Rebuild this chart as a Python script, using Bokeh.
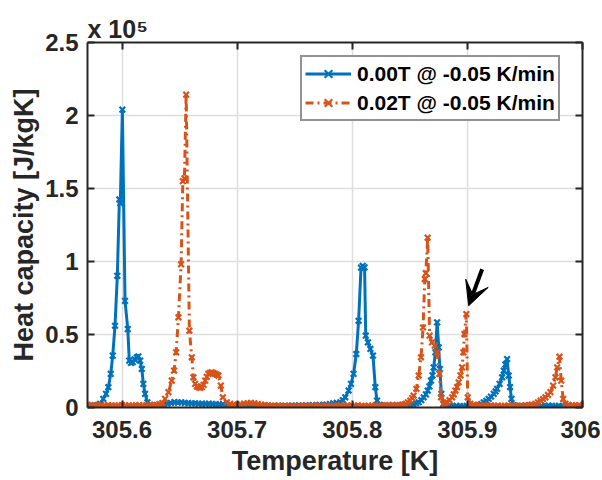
from bokeh.plotting import figure
from bokeh.models import (Range1d, LinearAxis, FixedTicker, Legend, LegendItem,
                          Arrow, VeeHead, CustomJSTickFormatter)
from bokeh.embed import file_html
from bokeh.resources import INLINE

# ---------------- data ----------------
x_ticks = [305.6, 305.7, 305.8, 305.9, 306.0]
y_ticks = [0, 50000, 100000, 150000, 200000, 250000]

blue_label = "0.00T @ -0.05 K/min"
orange_label = "0.02T @ -0.05 K/min"
exponent_text = "x 10\u2075"

blue_T = [
    305.5700, 305.5730, 305.5760, 305.5785,
    305.5809, 305.5837, 305.5861, 305.5881, 305.5902, 305.5919, 305.5939, 305.5959, 305.5977, 305.5985,
    305.6003, 305.6026, 305.6050, 305.6063, 305.6078, 305.6093, 305.6110, 305.6128, 305.6142, 305.6157,
    305.6172, 305.6185, 305.6200, 305.6220,
    305.6245, 305.6275, 305.6305, 305.6335, 305.6365, 305.6395, 305.6425, 305.6455, 305.6485, 305.6515,
    305.6545, 305.6575, 305.6605, 305.6635, 305.6665, 305.6695, 305.6725, 305.6755, 305.6785, 305.6815,
    305.6845, 305.6875, 305.6905, 305.6935, 305.6965, 305.6995, 305.7025, 305.7055, 305.7085, 305.7115,
    305.7145, 305.7175, 305.7205, 305.7235, 305.7265, 305.7295, 305.7325, 305.7355, 305.7385, 305.7415,
    305.7445, 305.7475, 305.7505, 305.7535, 305.7565, 305.7595, 305.7625, 305.7655, 305.7685, 305.7715,
    305.7745, 305.7775, 305.7805, 305.7835, 305.7865,
    305.7896, 305.7918, 305.7939, 305.7968, 305.7989, 305.8011, 305.8035, 305.8055, 305.8076, 305.8091,
    305.8107, 305.8117, 305.8136, 305.8157, 305.8180, 305.8200, 305.8215,
    305.8240, 305.8270, 305.8300, 305.8330, 305.8360, 305.8390, 305.8420, 305.8450, 305.8480, 305.8505,
    305.8530, 305.8555, 305.8577, 305.8600, 305.8620, 305.8640, 305.8655, 305.8670, 305.8684, 305.8697,
    305.8707, 305.8722, 305.8737, 305.8751, 305.8761, 305.8774, 305.8791,
    305.8815, 305.8845, 305.8875, 305.8905, 305.8935, 305.8965, 305.8995, 305.9025, 305.9055, 305.9080,
    305.9100, 305.9120, 305.9142, 305.9165, 305.9185, 305.9205, 305.9229, 305.9245, 305.9258, 305.9280,
    305.9302, 305.9316, 305.9330, 305.9345, 305.9359, 305.9371, 305.9383,
    305.9405, 305.9435, 305.9465, 305.9495, 305.9525, 305.9555, 305.9585, 305.9615, 305.9645, 305.9675,
    305.9705, 305.9735, 305.9765, 305.9795, 305.9825, 305.9855, 305.9885, 305.9915, 305.9945, 305.9975,
    306.0000,
]
blue_C = [
    1100, 900, 1200, 1700,
    2500, 5900, 9300, 13900, 23000, 35500, 56000, 90200, 142500, 140000,
    204000, 73000, 53700, 32100, 30500, 31000, 33000, 34400, 35000, 32100,
    26400, 16200, 9300, 3600,
    1800, 1100, 1000, 1300, 1900, 2600, 3200, 3700, 3400, 3600,
    3100, 3000, 2800, 2900, 2500, 2700, 2400, 2600, 2300, 2400,
    2100, 2200, 1700, 1400, 1200, 1000, 900, 1100, 800, 1000,
    900, 1200, 1000, 800, 1100, 900, 1000, 1200, 900, 1100,
    1000, 1300, 1100, 1400, 1200, 1500, 1300, 1600, 1500, 1800,
    1700, 2000, 2300, 2800, 3200,
    3600, 5000, 7000, 11600, 16200, 23000, 36600, 59400, 95800, 97000,
    96000, 49200, 44600, 40100, 35500, 13900, 4800,
    1800, 1200, 1000, 1100, 900, 1200, 1000, 1300, 1500, 1800,
    2200, 2900, 3600, 5000, 7000, 9000, 11600, 14500, 18400, 22000,
    27500, 37800, 58300, 41200, 26400, 9300, 2500,
    1500, 1100, 900, 1200, 1000, 800, 1100, 1300, 1000, 1200,
    1600, 2300, 3600, 4600, 5900, 7500, 9300, 11000, 12800, 16200,
    20700, 25300, 29500, 33200, 21900, 14000, 5900,
    1500, 1100, 900, 1200, 1000, 1300, 1100, 900, 1200, 1000,
    1300, 1100, 900, 1200, 1000, 1100, 800, 1000, 900, 1100,
    1000,
]

orange_T = [
    305.5700, 305.5730, 305.5760, 305.5790, 305.5820, 305.5850, 305.5880, 305.5910, 305.5940, 305.5970,
    305.6000, 305.6030, 305.6060, 305.6090, 305.6120, 305.6150, 305.6180, 305.6210, 305.6240, 305.6270,
    305.6300, 305.6325, 305.6350,
    305.6374, 305.6403, 305.6432, 305.6452, 305.6470, 305.6490, 305.6513, 305.6528, 305.6542, 305.6557,
    305.6585, 305.6606, 305.6620, 305.6635, 305.6650, 305.6663, 305.6678, 305.6693, 305.6708, 305.6722,
    305.6736, 305.6750, 305.6765, 305.6780, 305.6795, 305.6809, 305.6823, 305.6837, 305.6858, 305.6876,
    305.6910,
    305.6940, 305.6970, 305.7000, 305.7030, 305.7060, 305.7090, 305.7120, 305.7150, 305.7180, 305.7210,
    305.7240, 305.7270, 305.7300, 305.7330, 305.7360, 305.7390, 305.7420, 305.7450, 305.7480, 305.7510,
    305.7540, 305.7570, 305.7600, 305.7630, 305.7660, 305.7690, 305.7720, 305.7750, 305.7780, 305.7810,
    305.7840, 305.7870, 305.7900, 305.7930, 305.7960, 305.7990, 305.8020, 305.8050, 305.8080, 305.8110,
    305.8140, 305.8170, 305.8200, 305.8230, 305.8260, 305.8290, 305.8320, 305.8350, 305.8380, 305.8410,
    305.8435,
    305.8461, 305.8483, 305.8504, 305.8520, 305.8533, 305.8557, 305.8577, 305.8597, 305.8615, 305.8630,
    305.8639, 305.8655, 305.8672, 305.8693, 305.8716, 305.8737, 305.8757, 305.8771, 305.8791,
    305.8805, 305.8823, 305.8845, 305.8867, 305.8882, 305.8896, 305.8910, 305.8924, 305.8940, 305.8954,
    305.8965, 305.8974, 305.8991, 305.9003, 305.9026,
    305.9055, 305.9085, 305.9115, 305.9145, 305.9175, 305.9205, 305.9235, 305.9265, 305.9295, 305.9325,
    305.9355, 305.9385, 305.9415, 305.9445, 305.9475, 305.9505, 305.9535, 305.9560,
    305.9591, 305.9613, 305.9635, 305.9657, 305.9678, 305.9700, 305.9722, 305.9745, 305.9765, 305.9780,
    305.9800, 305.9815, 305.9832, 305.9852,
    305.9880, 305.9910, 305.9940, 305.9970, 306.0000,
]
orange_C = [
    1800, 1500, 1700, 1300, 1600, 1400, 1700, 1500, 1200, 1400,
    1600, 1300, 1500, 1200, 1400, 1600, 1300, 1500, 1700, 1400,
    1800, 2300, 3000,
    5900, 10500, 18400, 25300, 37800, 61700, 98100, 155000, 157000, 214300,
    52600, 34400, 20700, 16200, 14500, 13900, 13500, 13900, 15500, 18400,
    21000, 23000, 23800, 24100, 23500, 23000, 22500, 21900, 15000, 7000,
    3600,
    2500, 2000, 1800, 2200, 2600, 2900, 3100, 2800, 2400, 1900,
    1600, 1400, 1200, 1100, 1300, 1000, 1200, 1100, 900, 1200,
    1000, 1300, 1100, 1200, 1000, 1300, 1100, 900, 1200, 1000,
    1300, 1100, 1400, 1200, 1500, 1300, 1100, 1400, 1200, 1000,
    1300, 1100, 1400, 1200, 1500, 1300, 1600, 1800, 1500, 1700,
    2000,
    2500, 3500, 4800, 6500, 8200, 12800, 21900, 34400, 54800, 88000,
    92000, 116300, 49200, 44600, 42300, 37800, 23000, 7000, 2500,
    3000, 3600, 5000, 7000, 9000, 11600, 14000, 17300, 22000, 27500,
    37800, 50300, 64000, 7000, 2500,
    1800, 1500, 1300, 1600, 1200, 1400, 1100, 1300, 1000, 1200,
    1400, 1100, 1300, 1000, 1200, 1400, 1700, 2000,
    2500, 3500, 4800, 5800, 7000, 8600, 10500, 15000, 20700, 27500,
    34800, 18400, 5900, 2500,
    1800, 1500, 1300, 1600, 1400,
]
assert len(blue_T) == len(blue_C) and len(orange_T) == len(orange_C)

# ---------------- styling ----------------
FONT = "Liberation Sans"
INK = "#262626"
BLUE = "#0072BD"
ORANGE = "#D95319"

p = figure(width=600, height=480, output_backend="svg", toolbar_location=None,
           x_range=Range1d(305.57, 306.0), y_range=Range1d(0, 250000),
           min_border_left=87, min_border_right=18, min_border_top=42, min_border_bottom=73)
p.outline_line_color = None
p.background_fill_color = "white"
p.border_fill_color = "white"

p.title.text = exponent_text
p.title.align = "left"
p.title.text_font = FONT
p.title.text_font_style = "bold"
p.title.text_font_size = "25px"
p.title.text_color = INK
p.title.standoff = 0
p.title.offset = 0

xt = FixedTicker(ticks=x_ticks)
yt = FixedTicker(ticks=y_ticks)
xfmt = CustomJSTickFormatter(code="return tick.toString();")
yfmt = CustomJSTickFormatter(code="return (Math.round(tick/1e4)/10).toString();")


def style_axis(ax, labels=True):
    ax.axis_line_color = INK
    ax.axis_line_width = 2
    ax.major_tick_line_color = INK
    ax.major_tick_line_width = 2
    ax.major_tick_in = 7
    ax.major_tick_out = 0
    ax.minor_tick_line_color = None
    ax.major_label_text_font = FONT
    ax.major_label_text_font_style = "bold"
    ax.major_label_text_color = INK
    if labels:
        ax.major_label_text_font_size = "24px"
    else:
        ax.major_label_text_font_size = "1px"
        ax.major_label_text_alpha = 0
        ax.major_label_standoff = 0


xa = p.xaxis[0]
xa.ticker = xt
xa.formatter = xfmt
style_axis(xa)
xa.major_label_standoff = 13
xa.axis_label = "Temperature [K]"
xa.axis_label_text_font = FONT
xa.axis_label_text_font_style = "bold"
xa.axis_label_text_font_size = "27px"
xa.axis_label_text_color = INK
xa.axis_label_standoff = 5

ya = p.yaxis[0]
ya.ticker = yt
ya.formatter = yfmt
style_axis(ya)
ya.major_label_standoff = 9
ya.axis_label = "Heat capacity [J/kgK]"
ya.axis_label_text_font = FONT
ya.axis_label_text_font_style = "bold"
ya.axis_label_text_font_size = "27px"
ya.axis_label_text_color = INK
ya.axis_label_standoff = 3

top = LinearAxis(ticker=xt)
style_axis(top, labels=False)
p.add_layout(top, "above")
right = LinearAxis(ticker=yt)
style_axis(right, labels=False)
p.add_layout(right, "right")

p.xgrid.ticker = xt
p.ygrid.ticker = yt
for g in (p.xgrid[0], p.ygrid[0]):
    g.grid_line_color = "#dedede"
    g.grid_line_width = 1.5

# ---------------- series ----------------
bl = p.line(blue_T, blue_C, line_color=BLUE, line_width=3)
bs = p.scatter(blue_T, blue_C, marker="x", size=8, line_color=BLUE, line_width=2.2)
ol = p.line(orange_T, orange_C, line_color=ORANGE, line_width=3, line_dash="8 4 2 4")
os_ = p.scatter(orange_T, orange_C, marker="x", size=8, line_color=ORANGE, line_width=2.2)

legend = Legend(items=[LegendItem(label=blue_label, renderers=[bl, bs]),
                       LegendItem(label=orange_label, renderers=[ol, os_])],
                location=(213, 286))
legend.label_text_font = FONT
legend.label_text_font_style = "bold"
legend.label_text_font_size = "21px"
legend.label_text_color = "black"
legend.border_line_color = INK
legend.border_line_width = 2
legend.background_fill_color = "white"
legend.background_fill_alpha = 1
legend.glyph_width = 46
legend.glyph_height = 27
legend.label_height = 27
legend.label_standoff = 6
legend.padding = 3
legend.spacing = 2
legend.margin = 0
p.add_layout(legend)

# arrow marking the peak
p.add_layout(Arrow(end=VeeHead(size=24, fill_color="black", line_color="black"),
                   x_start=305.9128, y_start=94700, x_end=305.9011, y_end=69700,
                   line_width=4, line_color="black"))

open("out.html", "w").write(file_html(p, INLINE))
